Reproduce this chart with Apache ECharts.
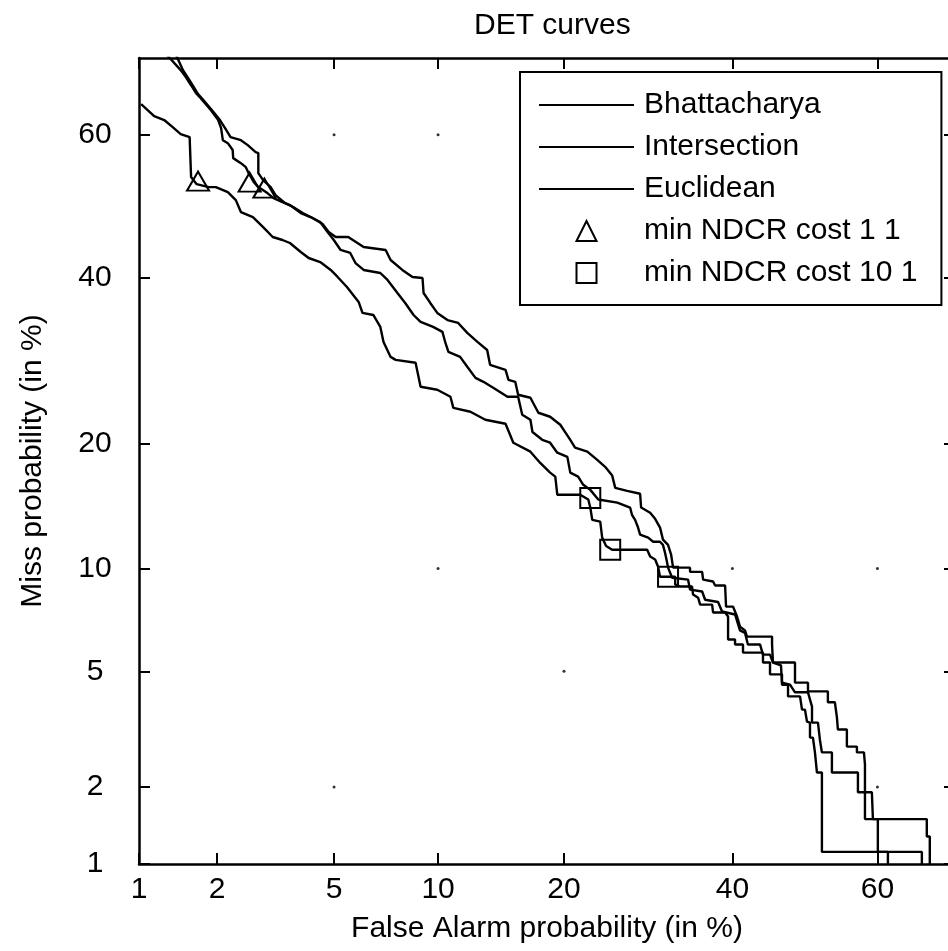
<!DOCTYPE html>
<html>
<head>
<meta charset="utf-8">
<script src="https://cdn.jsdelivr.net/npm/echarts@6/dist/echarts.min.js"></script>
<style>
html,body{margin:0;padding:0;background:#fff;}
#chart{width:948px;height:951px;}
</style>
</head>
<body>
<div id="chart"></div>
<script>
// ---- axis definition (percent) ----
const tickLabels = [1, 2, 5, 10, 20, 40, 60];
const axisMinPct = 1;
const axisMaxPct = 70;

// ---- curves: false alarm % and miss % ----
const bhattacharyaFA = [1.02,1.15,1.26,1.36,1.46,1.58,1.60,1.68,1.86,1.98,2.19,2.34,2.44,2.69,2.92,3.15,3.40,3.60,3.91,4.15,4.52,4.88,5.13,5.48,5.95,6.11,6.58,6.90,7.05,7.39,7.64,8.69,8.97,9.95,10.78,10.97,12.13,13.21,14.78,15.42,16.88,17.76,18.67,19.16,19.35,21.62,22.46,22.67,22.88,23.73,23.94,24.37,25.04,29.08,29.44,30.04,30.40,30.64,32.52,32.52,33.15,34.67,34.80,35.46,35.72,37.29,37.42,39.02,39.42,39.42,40.36,40.36,41.44,41.44,44.18,44.18,45.15,45.15,46.81,46.81,47.65,47.65,49.32,49.60,50.01,50.29,50.71,50.71,51.12,51.40,51.68,52.37,52.37,65.86,65.86];
const bhattacharyaMiss = [64.10,62.51,61.98,61.02,60.07,59.66,54.11,53.12,52.70,52.70,52.00,50.87,49.18,48.48,47.07,45.67,45.25,44.83,43.58,42.74,42.18,41.09,40.13,38.76,36.75,35.30,35.03,33.48,31.57,29.71,29.35,28.99,26.16,25.82,25.02,23.79,23.37,22.51,22.09,20.15,19.27,18.20,17.31,16.95,15.38,15.38,14.98,14.33,13.37,13.23,12.06,11.48,11.22,11.22,10.77,10.58,10.12,9.50,9.50,9.05,8.93,8.93,8.48,8.31,7.94,7.94,7.54,7.54,7.34,6.27,6.27,6.06,6.06,5.72,5.72,5.33,5.33,4.89,4.89,4.53,4.53,4.15,4.15,3.75,3.75,3.42,3.39,3.01,3.01,2.67,2.26,2.26,1.12,1.12,1.00];

const intersectionFA = [1.29,1.46,1.53,1.60,1.67,1.74,1.90,2.02,2.07,2.10,2.19,2.28,2.29,2.44,2.54,2.60,2.71,2.81,3.02,3.17,3.40,3.60,3.91,4.21,4.52,4.77,4.99,5.24,5.61,5.82,6.16,6.90,7.24,7.73,8.13,8.58,8.97,9.70,10.27,10.46,10.65,11.42,11.91,12.49,13.07,13.81,14.94,15.82,16.17,16.88,17.06,17.94,18.67,19.35,20.33,20.62,21.41,21.94,22.67,23.52,25.61,27.07,27.29,27.65,28.00,28.24,29.20,29.80,30.64,31.00,31.25,31.51,31.63,32.14,34.16,34.41,35.98,36.37,38.08,38.61,40.36,41.03,41.71,42.11,43.77,44.18,45.15,45.56,46.67,46.81,47.93,48.62,50.43,50.99,50.99,51.82,52.09,52.37,53.76,53.76,57.35,57.35,59.25,59.39,60.06,60.06,61.41,61.41];
const intersectionMiss = [70.4,68.49,67.59,66.57,65.55,64.89,63.30,61.98,60.89,59.24,58.83,57.88,56.76,56.06,55.50,54.66,53.40,52.70,51.86,51.15,50.59,50.17,49.04,48.48,47.78,46.37,45.25,43.86,43.44,42.04,41.09,40.67,39.72,37.95,36.62,35.03,34.12,33.48,32.84,31.44,30.32,29.71,28.51,27.19,26.73,26.05,25.02,25.02,23.05,22.51,21.23,20.44,20.15,19.17,18.77,17.31,16.95,16.23,15.79,14.98,14.73,14.33,13.76,13.37,12.79,12.28,12.06,11.77,11.77,11.55,11.03,10.38,10.06,9.44,9.33,8.76,8.65,8.20,8.08,7.59,7.44,6.68,6.57,6.06,6.06,5.64,5.64,5.33,5.22,4.60,4.53,4.28,4.28,3.84,3.39,3.39,2.96,2.67,2.67,2.26,2.26,1.91,1.91,1.51,1.51,1.12,1.12,1.00];

const euclideanFA = [1.40,1.49,1.56,1.63,1.70,1.78,1.93,2.05,2.14,2.24,2.44,2.58,2.75,2.81,2.81,2.92,3.10,3.22,3.47,3.69,3.97,4.27,4.60,4.81,5.06,5.53,6.16,7.15,7.39,7.98,8.52,9.08,9.14,9.53,9.95,10.59,11.29,11.91,12.63,13.35,13.57,14.78,15.02,15.58,15.82,16.88,17.59,18.67,19.64,20.62,21.10,22.36,23.41,24.26,25.04,25.38,26.73,28.24,28.36,29.44,30.04,30.64,31.00,31.63,32.01,32.26,34.41,34.41,35.98,36.11,37.42,37.69,39.02,39.15,40.09,40.63,41.03,41.71,41.98,45.43,45.43,45.56,45.56,48.62,48.62,50.43,50.43,53.20,53.20,54.17,54.45,54.59,55.83,55.83,57.21,57.21,58.17,58.31,58.31,66.49,66.49,66.87,66.87];
const euclideanMiss = [70.4,68.49,67.47,66.45,65.42,64.63,63.17,61.98,60.89,59.66,59.24,58.56,57.60,57.46,54.66,53.68,52.70,51.57,50.45,49.89,49.04,48.34,47.50,46.37,45.67,45.67,44.28,43.86,42.46,41.09,40.13,39.99,37.95,36.62,35.30,34.37,33.99,32.71,31.57,30.56,28.75,28.14,26.96,26.73,25.25,24.91,23.26,22.83,21.98,20.44,19.66,19.27,18.48,17.84,17.04,15.96,15.71,15.46,14.33,13.92,13.45,12.79,11.92,11.55,10.90,10.06,10.06,9.80,9.80,9.33,9.22,8.99,8.99,7.84,7.84,7.34,6.85,6.68,6.40,6.40,6.06,6.06,5.33,5.33,4.60,4.60,4.31,4.31,3.97,3.97,3.54,3.21,3.21,2.80,2.80,2.67,2.67,2.42,1.51,1.51,1.29,1.29,1.00];

// ---- operating points ----
const cost11FA = [1.70, 2.62, 2.95];
const cost11Miss = [53.54, 53.40, 52.56];
const cost101FA = [22.67, 24.82, 31.63];
const cost101Miss = [15.11, 11.22, 9.50];

// ---- faint grid dots visible in the figure ----
const gridDotFA = [5, 10, 10, 40, 60, 5, 20, 60];
const gridDotMiss = [60, 60, 10, 10, 10, 2, 5, 2];

const seriesNames = ['Bhattacharya', 'Intersection', 'Euclidean', 'min NDCR cost 1 1', 'min NDCR cost 10 1'];

// inverse standard normal CDF (Acklam)
function probit(p) {
  const a=[-3.969683028665376e+01,2.209460984245205e+02,-2.759285104469687e+02,1.383577518672690e+02,-3.066479806614716e+01,2.506628277459239e+00];
  const b=[-5.447609879822406e+01,1.615858368580409e+02,-1.556989798598866e+02,6.680131188771972e+01,-1.328068155288572e+01];
  const c=[-7.784894002430293e-03,-3.223964580411365e-01,-2.400758277161838e+00,-2.549732539343734e+00,4.374664141464968e+00,2.938163982698783e+00];
  const d=[7.784695709041462e-03,3.224671290700398e-01,2.445134137142996e+00,3.754408661907416e+00];
  const pl=0.02425, ph=1-pl; let q, r;
  if (p < pl) { q=Math.sqrt(-2*Math.log(p)); return (((((c[0]*q+c[1])*q+c[2])*q+c[3])*q+c[4])*q+c[5])/((((d[0]*q+d[1])*q+d[2])*q+d[3])*q+1); }
  if (p <= ph) { q=p-0.5; r=q*q; return (((((a[0]*r+a[1])*r+a[2])*r+a[3])*r+a[4])*r+a[5])*q/(((((b[0]*r+b[1])*r+b[2])*r+b[3])*r+b[4])*r+1); }
  q=Math.sqrt(-2*Math.log(1-p)); return -(((((c[0]*q+c[1])*q+c[2])*q+c[3])*q+c[4])*q+c[5])/((((d[0]*q+d[1])*q+d[2])*q+d[3])*q+1);
}
const nd = pct => probit(pct / 100);
const pairs = (fa, miss) => fa.map((x, i) => [nd(x), nd(miss[i])]);
const tickVals = tickLabels.map(nd);
const fmt = v => { for (const t of tickLabels) { if (Math.abs(nd(t) - v) < 1e-6) return String(t); } return ''; };

const FONT = 'Liberation Sans';
const FS = 30, LH = 32;
const axisMin = nd(axisMinPct), axisMax = nd(axisMaxPct);

function mkAxis(pos, showLabel, extra) {
  return Object.assign({
    type: 'value', position: pos, min: axisMin, max: axisMax,
    axisLine: { show: true, onZero: false, lineStyle: { color: '#000', width: 2.5 } },
    axisTick: { show: true, inside: true, length: 11, customValues: tickVals, lineStyle: { color: '#000', width: 2 } },
    axisLabel: { show: showLabel, customValues: tickVals, formatter: fmt, color: '#000', fontFamily: FONT, fontSize: FS, lineHeight: LH },
    splitLine: { show: false }
  }, extra || {});
}

const xBottom = mkAxis('bottom', true, {
  name: 'False Alarm probability (in %)', nameLocation: 'middle', nameGap: 49,
  nameTextStyle: { color: '#000', fontFamily: FONT, fontSize: FS, lineHeight: LH }
});
xBottom.axisLabel.margin = 10;
const xTop = mkAxis('top', false);
const yLeft = mkAxis('left', true, {
  name: 'Miss probability (in %)', nameLocation: 'middle', nameGap: 90,
  nameTextStyle: { color: '#000', fontFamily: FONT, fontSize: FS, lineHeight: LH }
});
yLeft.axisLabel.margin = 44;
yLeft.axisLabel.align = 'center';
const yRight = mkAxis('right', false);

function curve(name, fa, miss) {
  return {
    name, type: 'line', xAxisIndex: 0, yAxisIndex: 0, data: pairs(fa, miss),
    symbol: 'none', showSymbol: false, clip: true, z: 3,
    lineStyle: { color: '#000', width: 2.4 }, itemStyle: { color: '#000' },
    emphasis: { disabled: true }, silent: true
  };
}
function markers(name, fa, miss, symbol, size) {
  return {
    name, type: 'line', xAxisIndex: 0, yAxisIndex: 0, data: pairs(fa, miss),
    symbol, symbolSize: size, showSymbol: true, showAllSymbol: true, z: 4,
    lineStyle: { width: 0, opacity: 0 },
    itemStyle: { color: 'none', borderColor: '#000', borderWidth: 2 },
    emphasis: { disabled: true }, silent: true
  };
}

const chart = echarts.init(document.getElementById('chart'), null, { renderer: 'canvas' });
chart.setOption({
  animation: false,
  backgroundColor: '#fff',
  title: {
    text: 'DET curves', left: 469, top: 5,
    textStyle: { color: '#000', fontFamily: FONT, fontSize: FS, fontWeight: 'normal', lineHeight: LH }
  },
  grid: { left: 139, top: 58, width: 816, height: 806, containLabel: false, outerBoundsMode: 'none' },
  xAxis: [xBottom, xTop],
  yAxis: [yLeft, yRight],
  legend: {
    orient: 'vertical', left: 520, top: 72,
    data: [
      { name: seriesNames[0], itemStyle: { opacity: 0 } },
      { name: seriesNames[1], itemStyle: { opacity: 0 } },
      { name: seriesNames[2], itemStyle: { opacity: 0 } },
      { name: seriesNames[3] },
      { name: seriesNames[4] }
    ],
    itemWidth: 95, itemHeight: 25, itemGap: 10,
    padding: [17, 24, 16, 18],
    borderColor: '#000', borderWidth: 2, backgroundColor: '#fff',
    selectedMode: false,
    textStyle: { color: '#000', fontFamily: FONT, fontSize: FS, lineHeight: LH, padding: [0, 0, 0, 5] }
  },
  series: [
    {
      type: 'scatter', data: pairs(gridDotFA, gridDotMiss), symbolSize: 3, z: 1,
      itemStyle: { color: '#000' }, silent: true, emphasis: { disabled: true }
    },
    curve(seriesNames[0], bhattacharyaFA, bhattacharyaMiss),
    curve(seriesNames[1], intersectionFA, intersectionMiss),
    curve(seriesNames[2], euclideanFA, euclideanMiss),
    markers(seriesNames[3], cost11FA, cost11Miss, 'triangle', [22, 19]),
    markers(seriesNames[4], cost101FA, cost101Miss, 'rect', 20)
  ]
});
</script>
</body>
</html>
